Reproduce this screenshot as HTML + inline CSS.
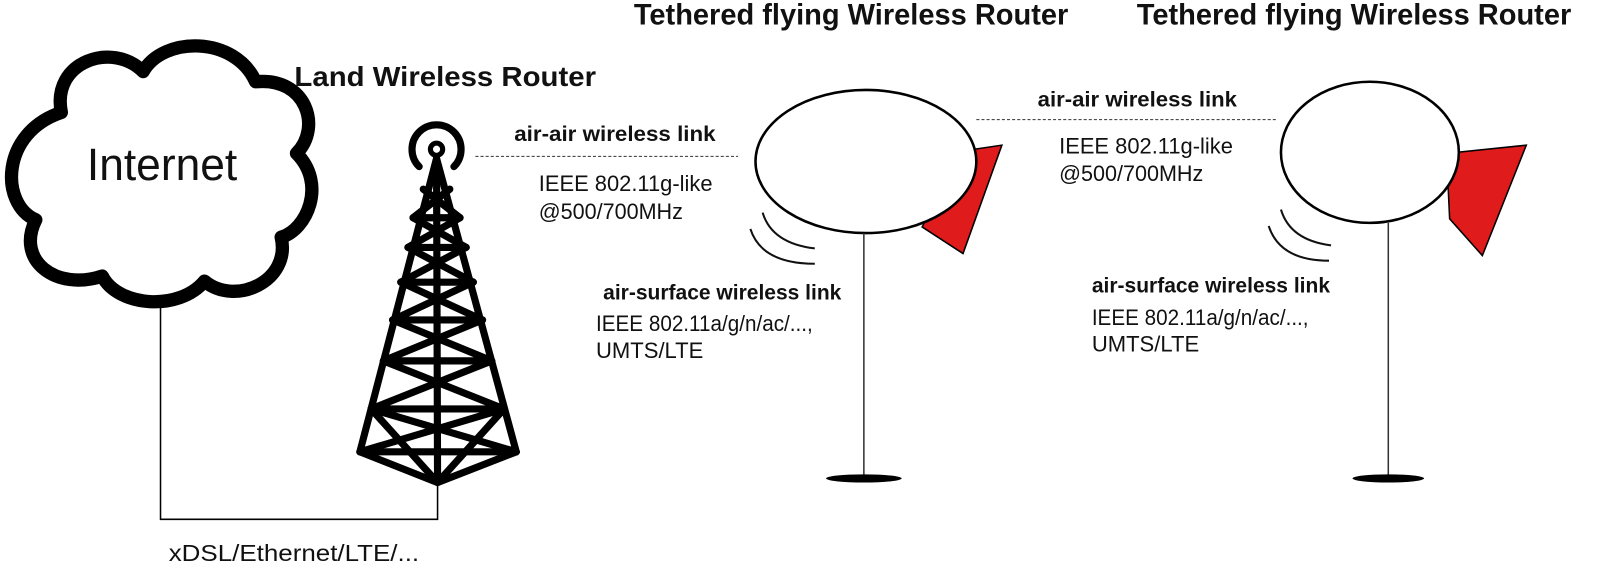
<!DOCTYPE html>
<html><head><meta charset="utf-8"><style>
html,body{margin:0;padding:0;background:#fff;}
svg{display:block}
text{font-family:"Liberation Sans",sans-serif;fill:#111}
.b{font-weight:bold}
</style></head><body>
<svg width="1603" height="564" viewBox="0 0 1568 551.7" xmlns="http://www.w3.org/2000/svg">
<!-- cloud -->
<path d="M60,110 C50,60 110,40 140,70 C160,35 230,35 250,80 C300,75 315,125 290,150 C320,180 300,225 275,232 C285,275 230,300 200,275 C175,305 115,300 100,270 C55,285 15,255 35,215 C0,200 0,130 60,110 Z" fill="#fff" stroke="#000" stroke-width="13" stroke-linejoin="round"/>
<text x="85" y="176" font-size="44" textLength="147" lengthAdjust="spacingAndGlyphs">Internet</text>
<text x="288" y="84" font-size="27" class="b" textLength="295" lengthAdjust="spacingAndGlyphs">Land Wireless Router</text>
<!-- tower -->
<g stroke="#000" fill="none" stroke-linecap="round" stroke-linejoin="round">
<path d="M410,163 A24,24 0 1 1 444,163" stroke-width="7"/>
<circle cx="427" cy="146" r="6" stroke-width="5"/>
<g stroke-width="7">
<path d="M427,155 L352,442 L428,472 L505,442 Z"/>
<path d="M427,155 L428,472"/>
<path d="M352,442 L505,442"/>
<path d="M363,400 L428,472 M493,400 L428,472"/>
<path d="M352,442 L493,400 M505,442 L363,400"/>
<path d="M363,400 L493,400 M363,400 L481,353 M493,400 L375,353"/>
<path d="M375,353 L481,353 M375,353 L472,313 M481,353 L384,313"/>
<path d="M384,313 L472,313 M384,313 L463,276 M472,313 L392,276"/>
<path d="M392,276 L463,276 M392,276 L456,242 M463,276 L399,242"/>
<path d="M399,242 L456,242 M399,242 L450,213 M456,242 L404,213"/>
<path d="M404,213 L450,213 M404,213 L440,185 M450,213 L414,185"/>
</g>
</g>
<path d="M428,472 L428,508 L157,508 L157,297" fill="none" stroke="#000" stroke-width="1.5"/>
<text x="165" y="549" font-size="23" textLength="245" lengthAdjust="spacingAndGlyphs">xDSL/Ethernet/LTE/...</text>
<!-- link 1 -->
<line x1="465" y1="153" x2="722" y2="153" stroke="#333" stroke-width="1" stroke-dasharray="3,2"/>
<text x="503" y="138" font-size="21" class="b" textLength="197" lengthAdjust="spacingAndGlyphs">air-air wireless link</text>
<text x="527" y="187" font-size="22" textLength="170" lengthAdjust="spacingAndGlyphs">IEEE 802.11g-like</text>
<text x="527" y="214" font-size="22" textLength="141" lengthAdjust="spacingAndGlyphs">@500/700MHz</text>
<text x="620" y="24" font-size="29" class="b" textLength="425" lengthAdjust="spacingAndGlyphs">Tethered flying Wireless Router</text>
<text x="1112" y="24" font-size="29" class="b" textLength="425" lengthAdjust="spacingAndGlyphs">Tethered flying Wireless Router</text>
<!-- balloon 1 -->
<polygon points="940,148 980,142 942,248 902,222" fill="#e01b1b" stroke="#000" stroke-width="1.5"/>
<ellipse cx="847" cy="158" rx="108" ry="70" fill="#fff" stroke="#000" stroke-width="2.5"/>
<line x1="845" y1="228" x2="845" y2="468" stroke="#333" stroke-width="1.5"/>
<ellipse cx="845" cy="468" rx="37" ry="4" fill="#000"/>
<path d="M746,208 Q755,238 797,243 M734,224 Q745,258 797,258" fill="none" stroke="#111" stroke-width="2"/>
<text x="590" y="293" font-size="21" class="b" textLength="233" lengthAdjust="spacingAndGlyphs">air-surface wireless link</text>
<text x="583" y="324" font-size="22" textLength="212" lengthAdjust="spacingAndGlyphs">IEEE 802.11a/g/n/ac/...,</text>
<text x="583" y="350" font-size="22" textLength="105" lengthAdjust="spacingAndGlyphs">UMTS/LTE</text>
<!-- link 2 -->
<line x1="955" y1="117" x2="1248" y2="117" stroke="#333" stroke-width="1" stroke-dasharray="3,2"/>
<text x="1015" y="104" font-size="21" class="b" textLength="195" lengthAdjust="spacingAndGlyphs">air-air wireless link</text>
<text x="1036" y="150" font-size="22" textLength="170" lengthAdjust="spacingAndGlyphs">IEEE 802.11g-like</text>
<text x="1036" y="177" font-size="22" textLength="141" lengthAdjust="spacingAndGlyphs">@500/700MHz</text>
<!-- balloon 2 -->
<polygon points="1415,150 1493,142 1450,250 1418,214" fill="#e01b1b" stroke="#000" stroke-width="1.5"/>
<ellipse cx="1340" cy="149" rx="87" ry="69" fill="#fff" stroke="#000" stroke-width="2.5"/>
<line x1="1358" y1="218" x2="1358" y2="468" stroke="#333" stroke-width="1.5"/>
<ellipse cx="1358" cy="468" rx="35" ry="4" fill="#000"/>
<path d="M1253,205 Q1262,235 1302,240 M1241,221 Q1252,255 1300,255" fill="none" stroke="#111" stroke-width="2"/>
<text x="1068" y="286" font-size="21" class="b" textLength="233" lengthAdjust="spacingAndGlyphs">air-surface wireless link</text>
<text x="1068" y="318" font-size="22" textLength="212" lengthAdjust="spacingAndGlyphs">IEEE 802.11a/g/n/ac/...,</text>
<text x="1068" y="344" font-size="22" textLength="105" lengthAdjust="spacingAndGlyphs">UMTS/LTE</text>
</svg>
</body></html>
